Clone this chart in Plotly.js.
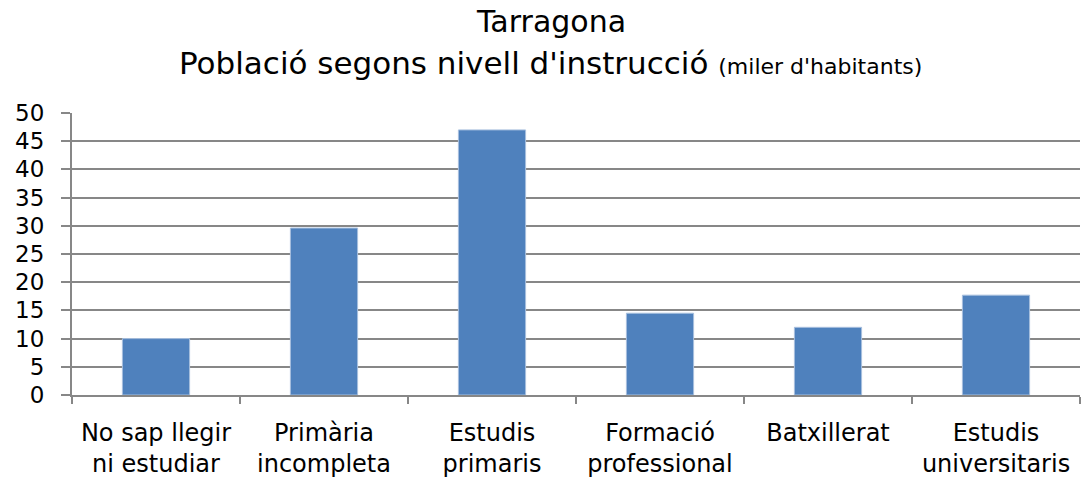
<!DOCTYPE html>
<html><head><meta charset="utf-8">
<script src="https://cdn.plot.ly/plotly-3.0.1.min.js"></script>
<style>html,body{margin:0;padding:0;background:#fff}</style>
</head><body><div id="chart" style="width:1082px;height:477px"></div>
<script>
const categories = ["No sap llegir<br>ni estudiar", "Primària<br>incompleta", "Estudis<br>primaris", "Formació<br>professional", "Batxillerat", "Estudis<br>universitaris"];
const values = [10.0, 29.6, 47.0, 14.5, 12.0, 17.7];
const yTicks = [0, 5, 10, 15, 20, 25, 30, 35, 40, 45, 50];
const titleLine1 = "Tarragona";
const titleLine2 = "Població segons nivell d'instrucció";
const titleUnit = "(miler d'habitants)";

const font = "DejaVu Sans, Verdana, sans-serif";
Plotly.newPlot("chart", [{
  type: "bar", x: categories, y: values,
  marker: {color: "#4F81BD", line: {color: "#A7BFDE", width: 1}},
  hoverinfo: "none"
}], {
  width: 1082, height: 477,
  margin: {l: 72, r: 2, t: 113, b: 82},
  paper_bgcolor: "#fff", plot_bgcolor: "#fff",
  bargap: 0.6,
  showlegend: false,
  font: {family: font, color: "#000"},
  annotations: [
    {text: titleLine1, xref: "paper", yref: "paper", x: 0.475, y: 1.323,
     xanchor: "center", yanchor: "middle", showarrow: false,
     font: {family: font, size: 30, color: "#000"}},
    {text: titleLine2 + " <span style='font-size:22px'>" + titleUnit + "</span>",
     xref: "paper", yref: "paper", x: 0.475, y: 1.177,
     xanchor: "center", yanchor: "middle", showarrow: false,
     font: {family: font, size: 31, color: "#000"}}
  ],
  xaxis: {
    type: "category", showgrid: false, showline: true, linecolor: "#878787", linewidth: 2,
    ticks: "outside", ticklen: 7, tickcolor: "#878787", tickwidth: 2,
    tickson: "boundaries", ticklabelstandoff: 15,
    tickfont: {family: font, size: 24, color: "#000"},
    zeroline: false, fixedrange: true
  },
  yaxis: {
    range: [0, 50], tickvals: yTicks, ticktext: yTicks.map(String),
    showgrid: true, gridcolor: "#878787", gridwidth: 2,
    showline: true, linecolor: "#878787", linewidth: 2,
    ticks: "outside", ticklen: 9, tickcolor: "#878787", tickwidth: 2,
    ticklabelstandoff: 12,
    tickfont: {family: font, size: 23, color: "#000"},
    zeroline: false, fixedrange: true
  }
}, {displayModeBar: false, staticPlot: true});
</script></body></html>
